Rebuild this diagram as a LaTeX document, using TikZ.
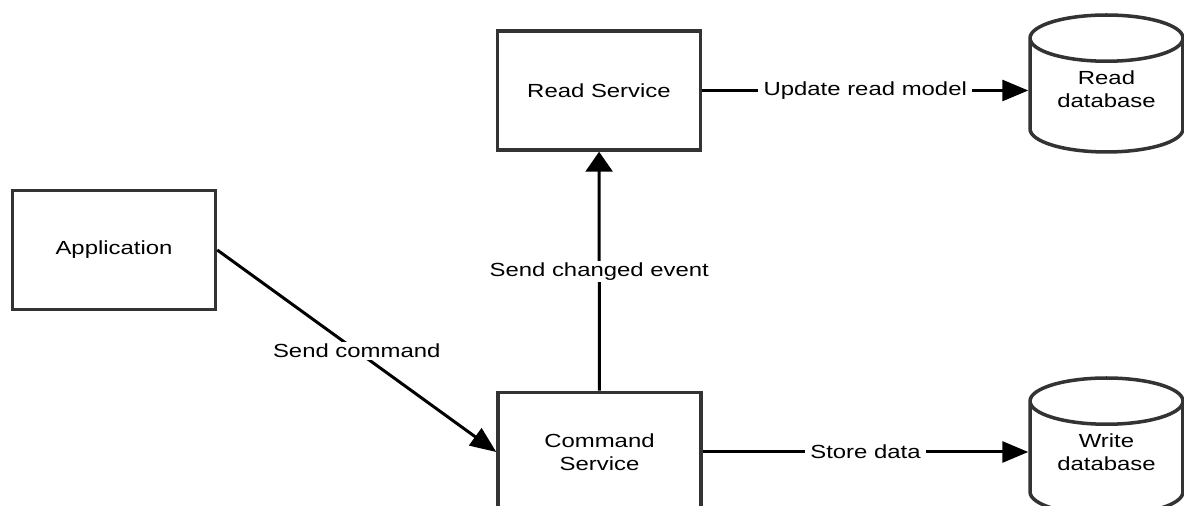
\documentclass[tikz,border=0pt]{standalone}
\usepackage{fontspec}
\setmainfont{Liberation Sans}[FakeStretch=1.26]
\usetikzlibrary{arrows.meta,shapes.geometric}

\begin{document}
\begin{tikzpicture}[x=0.02cm,y=0.02cm,
    every node/.style={font=\fontsize{10.8}{13}\selectfont},
    box/.style={draw=black!80,line width=2pt,fill=white,minimum width=4.06cm,minimum height=2.38cm,align=center},
    db/.style={cylinder,shape border rotate=90,aspect=0.42,draw=black!80,line width=2pt,fill=white,minimum width=3.06cm,minimum height=2.74cm,align=center,text depth=0.44cm,anchor=shape center},
    lbl/.style={fill=white,inner xsep=3pt,inner ysep=1pt},
    flow/.style={line width=1.7pt,-{Triangle[length=0.52cm,width=0.42cm]}}]
  \useasboundingbox (0,0) rectangle (1184,506);
  \clip (0,0) rectangle (1184,506);
  \node[box] (app) at (114,256) {Application};
  \node[box] (read) at (599,415.5) {Read Service};
  \node[box] (cmd) at (599.5,54) {Command\\Service};
  \node[db] (readdb) at (1106.5,422.5) {Read\\database};
  \node[db] (writedb) at (1106.5,59.5) {Write\\database};
  \draw[flow] (app.east) -- node[lbl] {Send command} (cmd.west);
  \draw[flow,-{Triangle[length=0.4cm,width=0.54cm]}] (cmd) -- node[lbl] {Send changed event} (read);
  \draw[flow] (read) -- node[lbl] {Update read model} (read -| readdb.west);
  \draw[flow] (cmd) -- node[lbl] {Store data} (cmd -| writedb.west);
\end{tikzpicture}
\end{document}
